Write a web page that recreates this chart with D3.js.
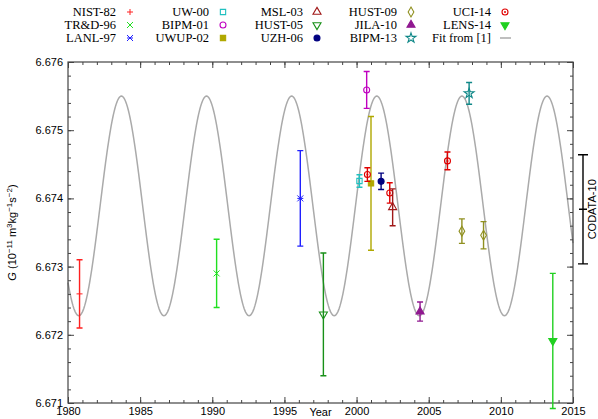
<!DOCTYPE html>
<html><head><meta charset="utf-8">
<script src="https://cdn.jsdelivr.net/npm/d3@7"></script>
<style>body{margin:0;background:#fff}</style>
</head><body>
<svg id="canvas" width="598" height="419"></svg>
<script>
// measurements: name, year, G, uncertainty
let names = ['NIST-82','TR&D-96','LANL-97','UW-00','BIPM-01','UWUP-02','MSL-03','HUST-05','UZH-06','HUST-09','JILA-10','BIPM-13','UCI-14','LENS-14'];
let colors = ['#ff2020','#20e020','#2020ff','#20c0c0','#c000c0','#b0a800','#a01818','#189018','#000080','#909020','#901890','#108888','#e00000','#20d020'];
let symbols = ['plus','cross','star','sq','circ','fsq','tri','dtri','fcirc','diam','ftri','pent','dotcirc','fdtri'];
let points = [
  {s: 0, year: 1980.8, g: 6.67260, e: 0.00050},
  {s: 1, year: 1990.3, g: 6.67290, e: 0.00050},
  {s: 2, year: 1996.1, g: 6.67400, e: 0.00070},
  {s: 3, year: 2000.2, g: 6.674255, e: 0.000092},
  {s: 4, year: 2000.7, g: 6.67559, e: 0.00027},
  {s: 5, year: 2001.0, g: 6.67422, e: 0.00098},
  {s: 12, year: 2000.75, g: 6.67435, e: 0.00010},
  {s: 8, year: 2001.7, g: 6.67425, e: 0.00012},
  {s: 12, year: 2002.3, g: 6.67408, e: 0.00015},
  {s: 6, year: 2002.5, g: 6.67387, e: 0.00027},
  {s: 7, year: 1997.7, g: 6.67230, e: 0.00090},
  {s: 10, year: 2004.4, g: 6.67234, e: 0.00014},
  {s: 12, year: 2006.3, g: 6.67455, e: 0.00013},
  {s: 11, year: 2007.8, g: 6.67554, e: 0.00016},
  {s: 9, year: 2007.3, g: 6.67352, e: 0.00018},
  {s: 9, year: 2008.8, g: 6.67346, e: 0.00020},
  {s: 13, year: 2013.6, g: 6.67191, e: 0.00099}
];
// fit from [1]: mean, amplitude, period, time of a maximum
let fitMean = 6.67389, fitAmp = 0.00161, fitPeriod = 5.9, fitPeak = 2001.4;
let codata = {g: 6.67384, e: 0.00080};

let pLeft = 68, pRight = 573, pTop = 62, pBottom = 403;
let svg = d3.select('#canvas');
let xScale = d3.scaleLinear().domain([1980, 2015]).range([pLeft, pRight]);
let yScale = d3.scaleLinear().domain([6.671, 6.676]).range([pBottom, pTop]);
let axisCol = '#444';

// fit curve
let fitYears = d3.range(1980, 2015.001, 0.05);
let line = d3.line().x(d => xScale(d)).y(d => yScale(fitMean + fitAmp * Math.cos(2 * Math.PI * (d - fitPeak) / fitPeriod)));
svg.append('path').datum(fitYears).attr('d', line).attr('fill', 'none').attr('stroke', '#aaa').attr('stroke-width', 1.5);

// axes with inward ticks
const tickAxis = (axis, tr) => {
  let g = svg.append('g').attr('transform', tr).call(axis);
  g.select('.domain').remove();
  g.selectAll('line').attr('stroke', axisCol);
  g.selectAll('text').attr('font-family', 'Liberation Sans, Arial').attr('font-size', 11).attr('fill', '#000');
  return g;
};
let xMinor = d3.range(1980, 2016, 1), xMajor = d3.range(1980, 2016, 5);
let yMinor = d3.range(0, 26).map(i => 6.671 + i * 0.0002), yMajor = d3.range(0, 6).map(i => 6.671 + i * 0.001);
tickAxis(d3.axisBottom(xScale).tickValues(xMinor).tickSize(-3).tickFormat(''), `translate(0,${pBottom})`);
tickAxis(d3.axisBottom(xScale).tickValues(xMajor).tickSize(-6).tickFormat(d3.format('d')), `translate(0,${pBottom})`)
  .selectAll('text').attr('y', 4).attr('dy', '0.71em');
tickAxis(d3.axisTop(xScale).tickValues(xMinor).tickSize(-3).tickFormat(''), `translate(0,${pTop})`);
tickAxis(d3.axisTop(xScale).tickValues(xMajor).tickSize(-6).tickFormat(''), `translate(0,${pTop})`);
tickAxis(d3.axisLeft(yScale).tickValues(yMinor).tickSize(-3).tickFormat(''), `translate(${pLeft},0)`);
tickAxis(d3.axisLeft(yScale).tickValues(yMajor).tickSize(-6).tickFormat(d3.format('.3f')), `translate(${pLeft},0)`)
  .selectAll('text').attr('x', -5);
tickAxis(d3.axisRight(yScale).tickValues(yMinor).tickSize(-3).tickFormat(''), `translate(${pRight},0)`);
tickAxis(d3.axisRight(yScale).tickValues(yMajor).tickSize(-6).tickFormat(''), `translate(${pRight},0)`);
svg.append('rect').attr('x', pLeft).attr('y', pTop).attr('width', pRight - pLeft).attr('height', pBottom - pTop)
  .attr('fill', 'none').attr('stroke', axisCol).attr('stroke-width', 1.2);

svg.append('text').attr('x', (pLeft + pRight) / 2).attr('y', 416).attr('text-anchor', 'middle')
  .attr('font-family', 'Liberation Sans, Arial').attr('font-size', 11).text('Year');
let yl = svg.append('text').attr('transform', `translate(16,${(pTop + pBottom) / 2}) rotate(-90)`).attr('text-anchor', 'middle')
  .attr('font-family', 'Liberation Sans, Arial').attr('font-size', 11);
yl.append('tspan').attr('font-style', 'italic').text('G');
yl.append('tspan').text(' (10');
yl.append('tspan').attr('dy', -4).attr('font-size', 8).text('−11');
yl.append('tspan').attr('dy', 4).text(' m');
yl.append('tspan').attr('dy', -4).attr('font-size', 8).text('3');
yl.append('tspan').attr('dy', 4).text('kg');
yl.append('tspan').attr('dy', -4).attr('font-size', 8).text('−1');
yl.append('tspan').attr('dy', 4).text('s');
yl.append('tspan').attr('dy', -4).attr('font-size', 8).text('−2');
yl.append('tspan').attr('dy', 4).text(')');

// marker drawing
const drawSymbol = (g, type, col) => {
  let r = 3;
  if (type === 'plus') g.append('path').attr('d', `M${-r},0H${r}M0,${-r}V${r}`).attr('stroke', col);
  else if (type === 'cross') g.append('path').attr('d', `M${-r},${-r}L${r},${r}M${-r},${r}L${r},${-r}`).attr('stroke', col);
  else if (type === 'star') g.append('path').attr('d', `M${-r},0H${r}M${-r},${-r}L${r},${r}M${-r},${r}L${r},${-r}`).attr('stroke', col);
  else {
    let filled = type[0] === 'f';
    let base = filled ? type.slice(1) : type;
    let sh;
    if (base === 'sq') sh = d3.symbolSquare;
    else if (base === 'circ' || base === 'dotcirc') sh = d3.symbolCircle;
    else if (base === 'tri' || base === 'dtri') sh = d3.symbolTriangle;
    else if (base === 'diam') sh = d3.symbolDiamond;
    else sh = d3.symbolStar;
    let p = g.append('path').attr('d', d3.symbol().type(sh).size(base === 'pent' ? 30 : 28)())
      .attr('fill', filled ? col : 'none').attr('stroke', col).attr('stroke-width', 1.1);
    if (base === 'dtri') p.attr('transform', 'rotate(180)');
    if (base === 'dotcirc') g.append('circle').attr('r', 1).attr('fill', col);
  }
};

// error bars and markers
let pg = svg.selectAll('g.pt').data(points).enter().append('g').attr('class', 'pt')
  .attr('transform', d => `translate(${xScale(d.year)},0)`);
pg.append('path').attr('fill', 'none').attr('stroke', d => colors[d.s]).attr('stroke-width', 1.4)
  .attr('d', d => {
    let y1 = yScale(d.g + d.e), y2 = yScale(d.g - d.e);
    return `M0,${y1}V${y2}M-3,${y1}H3M-3,${y2}H3`;
  });
pg.each(function (d) {
  let g = d3.select(this).append('g').attr('transform', `translate(0,${yScale(d.g)})`);
  drawSymbol(g, symbols[d.s], colors[d.s]);
});

// CODATA-10 bar
let cx = 583;
svg.append('path').attr('stroke', '#000').attr('stroke-width', 1.4).attr('fill', 'none')
  .attr('d', `M${cx},${yScale(codata.g + codata.e)}V${yScale(codata.g - codata.e)}M${cx - 5},${yScale(codata.g + codata.e)}H${cx + 5}M${cx - 5},${yScale(codata.g - codata.e)}H${cx + 5}M${cx - 4},${yScale(codata.g)}H${cx + 4}`);
svg.append('text').attr('transform', `translate(596,${yScale(codata.g)}) rotate(-90)`).attr('text-anchor', 'middle')
  .attr('font-family', 'Liberation Sans, Arial').attr('font-size', 11).text('CODATA-10');

// legend: 5 columns x 3 rows
let legItems = names.map((n, i) => ({label: n, i: i})).concat([{label: 'Fit from [1]', i: -1}]);
let colX = [116, 209, 303, 397, 491];
let lg = svg.selectAll('g.leg').data(legItems).enter().append('g').attr('class', 'leg')
  .attr('transform', (d, k) => `translate(${colX[Math.floor(k / 3)]},${12 + (k % 3) * 13})`);
lg.append('text').attr('text-anchor', 'end').attr('dy', '0.35em').attr('font-family', 'Liberation Serif, Times New Roman')
  .attr('font-size', 12.5).text(d => d.label);
lg.each(function (d) {
  let g = d3.select(this).append('g').attr('transform', 'translate(14,0)');
  if (d.i < 0) g.append('path').attr('d', 'M-5,0H6').attr('stroke', '#aaa').attr('stroke-width', 1.5);
  else drawSymbol(g, symbols[d.i], colors[d.i]);
});
</script>
</body></html>
